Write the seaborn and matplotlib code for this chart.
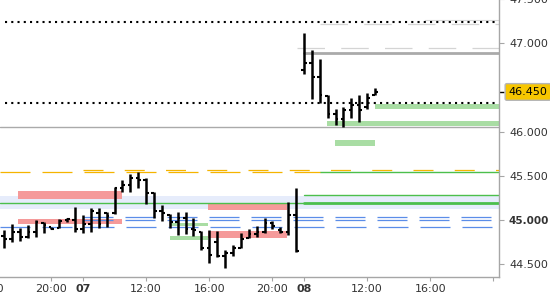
import numpy as np
import matplotlib
matplotlib.use("Agg")
import matplotlib.pyplot as plt
import matplotlib.transforms as mtransforms
import seaborn as sns

# ---------------- data ----------------
# 30-minute OHLC bars; bar index 0 = day 07 session open (trading-hour axis)
bar_first = -10
opens  = [44.82, 44.78, 44.86, 44.80, 44.86, 44.96, 44.92, 44.91, 45.00, 45.00,
          44.90, 44.95, 45.08, 45.08, 45.08, 45.36, 45.40, 45.48, 45.45, 45.30,
          45.10, 45.06, 44.98, 45.02, 44.90, 44.86, 44.68, 44.75, 44.59, 44.62,
          44.68, 44.79, 44.84, 44.86, 44.96, 44.88, 44.86, 45.05,
          46.70, 46.78, 46.62, 46.40, 46.20, 46.14, 46.25, 46.30, 46.28, 46.42]
highs  = [44.885, 44.949, 44.911, 44.941, 44.998, 44.972, 44.922, 45.010, 45.024, 45.149,
          45.055, 45.134, 45.137, 45.085, 45.369, 45.452, 45.516, 45.546, 45.478, 45.312,
          45.168, 45.063, 45.092, 45.092, 45.021, 44.878, 44.885, 44.879, 44.658, 44.715,
          44.856, 44.896, 44.930, 45.017, 44.987, 44.922, 45.206, 45.358,
          47.121, 46.926, 46.826, 46.415, 46.257, 46.279, 46.387, 46.415, 46.435, 46.491]
lows   = [44.684, 44.745, 44.760, 44.791, 44.809, 44.847, 44.893, 44.904, 44.972, 44.866,
          44.854, 44.866, 44.911, 44.915, 45.063, 45.312, 45.319, 45.364, 45.176, 45.017,
          44.987, 44.911, 44.828, 44.839, 44.817, 44.658, 44.507, 44.579, 44.451, 44.590,
          44.677, 44.791, 44.805, 44.847, 44.896, 44.847, 44.828, 44.639,
          46.656, 46.372, 46.325, 46.160, 46.070, 46.056, 46.160, 46.113, 46.259, 46.415]
closes = [44.78, 44.86, 44.80, 44.86, 44.98, 44.94, 44.90, 44.99, 45.01, 44.90,
          44.95, 45.10, 44.95, 45.04, 45.36, 45.40, 45.48, 45.45, 45.30, 45.10,
          45.08, 44.98, 45.02, 44.90, 44.88, 44.68, 44.60, 44.59, 44.62, 44.68,
          44.78, 44.84, 44.86, 44.96, 44.93, 44.86, 45.06, 44.65,
          46.78, 46.62, 46.41, 46.20, 46.14, 46.25, 46.30, 46.25, 46.38, 46.45]
last_price = 46.450

# x axis (trading hours from day 07 open)
tick_hours  = [-2, 0, 4, 8, 12, 14, 18, 22, 26]
tick_labels = ["20:00", "07", "12:00", "16:00", "20:00", "08", "12:00", "16:00", ""]
bold_labels = ["07", "08"]
cut_label_hour, cut_label = -6, "16:00"

# y axis
y_ticks = [44.5, 45.0, 45.5, 46.0, 47.0, 47.5]
y_bold = [45.0]

# levels (value, start hour, end hour); None = chart edge
dotted_levels = [(47.243, None, None), (46.330, None, None)]
gray_solid    = [(46.053, None, None, 1.0), (46.895, 14.0, None, 2.0), (47.266, 21.66, None, 0.8)]
gray_dashed   = [(47.217, 15.0, None), (46.945, 13.55, None)]
green_lines   = [(45.191, None, 14.0, 1.0), (45.191, 14.0, None, 2.0),
                 (45.285, 14.0, None, 1.0), (45.542, 15.0, None, 1.0)]
orange_dashed = [(45.543, None, 15.0, (0, (24, 9.6))), (45.565, 0.0, None, (0, (16, 17)))]
blue_dashed   = [(45.029, 0.0, None), (44.998, 0.0, None), (44.915, None, None)]

band_lo, band_hi = 45.119, 45.270
red_zones   = [(45.236, 45.327, -4.1, 2.45), (44.953, 45.010, -4.1, 2.45),
               (45.112, 45.187, 7.92, 12.92), (44.797, 44.873, 7.92, 12.92)]
green_zones = [(46.258, 46.313, 18.49, None), (46.064, 46.121, 15.43, None),
               (45.840, 45.905, 15.96, 18.49), (44.930, 44.968, 5.51, 7.92),
               (44.777, 44.816, 5.51, 7.92)]

# ---------------- figure ----------------
sns.set_theme(style="white")
plt.rcParams['font.family'] = ['DejaVu Sans']

fig = plt.figure(figsize=(5.5, 3.0), dpi=100)
ax = fig.add_axes([0.0, 0.0761, 0.90727, 0.92903])
x_min, x_max = -5.256, 26.35
ax.set_xlim(x_min, x_max)
ax.set_ylim(44.35, 47.51)

def span(a, b):
    return (x_min if a is None else a), (x_max if b is None else b)

# background band and zones
ax.axhspan(band_lo, band_hi, color="#e6ecfb", lw=0, zorder=0)
for lo, hi, a, b in red_zones:
    a, b = span(a, b)
    ax.fill_between([a, b], lo, hi, color="#f59a9a", lw=0, zorder=1)
for lo, hi, a, b in green_zones:
    a, b = span(a, b)
    ax.fill_between([a, b], lo, hi, color="#a9dda4", lw=0, zorder=1)

# level lines
for v, a, b in dotted_levels:
    a, b = span(a, b)
    ax.plot([a + 0.3, b - 0.1], [v, v], color="black", lw=1.5, ls=(0, (1, 2)), zorder=3)
for v, a, b, w in gray_solid:
    a, b = span(a, b)
    c = "#d9d9d9" if w < 1 else "#aaaaaa"
    ax.plot([a, b], [v, v], color=c, lw=w, zorder=2)
for v, a, b in gray_dashed:
    a, b = span(a, b)
    ax.plot([a, b], [v, v], color="#d4d4d4", lw=0.9, ls=(0, (22, 13)), zorder=2)
for v, a, b, w in green_lines:
    a, b = span(a, b)
    ax.plot([a, b], [v, v], color="#4cbf4c", lw=w, zorder=2)
for v, a, b, ls in orange_dashed:
    a, b = span(a, b)
    ax.plot([a, b], [v, v], color="#f5b400", lw=0.9, ls=ls, zorder=2)
for v, a, b in blue_dashed:
    a, b = span(a, b)
    ax.plot([a, b], [v, v], color="#5b8de8", lw=0.9, ls=(0, (24, 9.6)), zorder=2)

# OHLC bars
x = (np.arange(len(opens)) + bar_first) * 0.5
tl = 0.17
ax.vlines(x, lows, highs, color="black", lw=1.8, zorder=5)
ax.hlines(opens, x - tl, x, color="black", lw=1.5, zorder=5)
ax.hlines(closes, x, x + tl, color="black", lw=1.5, zorder=5)

# axes styling
for s in ["top", "left"]:
    ax.spines[s].set_visible(False)
for s in ["right", "bottom"]:
    ax.spines[s].set_color("#a6a6a6")
    ax.spines[s].set_linewidth(1.0)

ax.yaxis.tick_right()
ax.set_yticks(y_ticks)
ax.set_yticklabels([f"{v:.3f}" for v in y_ticks])
ax.set_yticks([last_price], minor=True)
ax.tick_params(axis="y", which="both", right=True, left=False, direction="out",
               length=3.6, width=0.8, color="#a6a6a6", pad=3.6,
               labelsize=8, labelcolor="#333333")
ax.tick_params(axis="y", which="minor", color="black", width=1.0)
for v, lab in zip(y_ticks, ax.get_yticklabels()):
    if v in y_bold:
        lab.set_fontweight("bold")
        lab.set_fontsize(7.5)

ax.set_xticks(tick_hours)
ax.set_xticklabels(tick_labels)
for lab in ax.get_xticklabels():
    if lab.get_text() in bold_labels:
        lab.set_fontweight("bold")
ax.tick_params(axis="x", bottom=True, direction="out", length=3, width=0.8,
               color="#a6a6a6", pad=2.2, labelsize=8, labelcolor="#333333")

trans_x = mtransforms.blended_transform_factory(ax.transData, ax.transAxes)
ax.text(cut_label_hour, -0.0255, cut_label, transform=trans_x, ha="center", va="top",
        fontsize=8, color="#333333", clip_on=False)

# last price box
trans_y = mtransforms.blended_transform_factory(ax.transAxes, ax.transData)
ax.text(1.019, last_price, f"{last_price:.3f}", transform=trans_y, ha="left", va="center",
        fontsize=8, color="black", clip_on=False, zorder=10,
        bbox=dict(boxstyle="round,pad=0.3,rounding_size=0.15", fc="#f7c600",
                  ec="#b5b5b5", lw=1.0))

ax.grid(False)
fig.savefig("out.png", dpi=100)
